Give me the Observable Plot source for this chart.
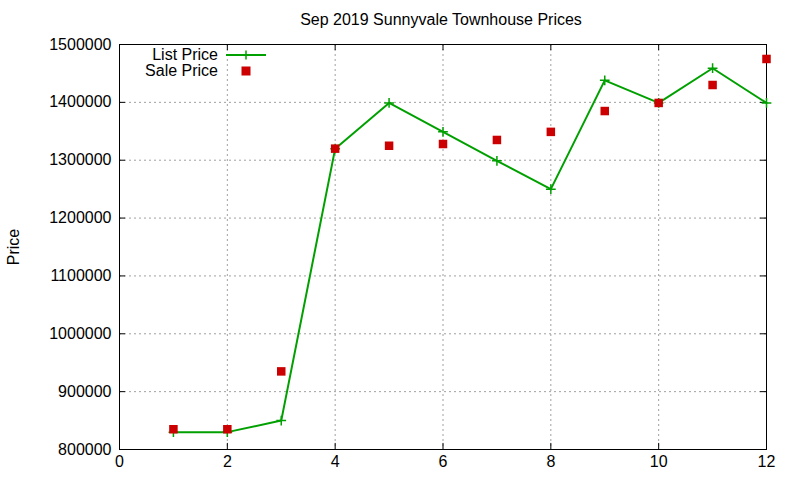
<!DOCTYPE html>
<html>
<head>
<meta charset="utf-8">
<script src="https://cdn.jsdelivr.net/npm/d3@7"></script>
<script src="https://cdn.jsdelivr.net/npm/@observablehq/plot@0.6"></script>
<style>
  html, body { margin: 0; padding: 0; background: #fff; }
  #wrap { position: relative; width: 800px; height: 480px; font-family: "Liberation Sans", Arial, sans-serif; }
  #title { height: 32px; line-height: 40px; text-align: center; font-size: 16px; color: #000; padding-left: 82px; box-sizing: border-box; }
  #legend { position: absolute; left: 118px; top: 47px; font-size: 16px; color: #000; }
  .row { display: flex; align-items: center; height: 16px; }
  .lab { width: 100px; text-align: right; }
</style>
</head>
<body>
<div id="wrap">
  <div id="title">Sep 2019 Sunnyvale Townhouse Prices</div>
  <div id="chart"></div>
  <div id="legend"></div>
</div>
<script>
const months = [1, 2, 3, 4, 5, 6, 7, 8, 9, 10, 11, 12];
const listPrice = [830000, 830000, 850000, 1320000, 1399000, 1349000, 1299000, 1250000, 1438000, 1399000, 1459000, 1399000];
const salePrice = [835000, 835000, 935000, 1320000, 1325000, 1328000, 1335000, 1349000, 1385000, 1399000, 1430000, 1475000];
const xTicks = [0, 2, 4, 6, 8, 10, 12];
const yTicks = [800000, 900000, 1000000, 1100000, 1200000, 1300000, 1400000, 1500000];
const seriesNames = ["List Price", "Sale Price"];
const colors = ["#00a000", "#cc0000"];

const listData = months.map((m, i) => ({x: m, y: listPrice[i]}));
const saleData = months.map((m, i) => ({x: m, y: salePrice[i]}));

const crossSymbol = {
  draw(context, size) {
    const h = Math.sqrt(size) / 2;
    context.moveTo(-h, 0); context.lineTo(h, 0);
    context.moveTo(0, -h); context.lineTo(0, h);
  }
};

const fmt = d3.format("d");

const chart = Plot.plot({
  width: 800,
  height: 448,
  marginTop: 12,
  marginBottom: 31,
  marginLeft: 119,
  marginRight: 34,
  style: {fontFamily: "Liberation Sans, Arial, sans-serif", fontSize: "16px", color: "#000", background: "#fff"},
  x: {domain: [0, 12]},
  y: {domain: [800000, 1500000]},
  marks: [
    Plot.gridX(xTicks, {stroke: "#a0a0a0", strokeOpacity: 1, strokeDasharray: "2,3", strokeWidth: 1}),
    Plot.gridY(yTicks, {stroke: "#a0a0a0", strokeOpacity: 1, strokeDasharray: "2,3", strokeWidth: 1}),
    Plot.axisX(xTicks, {tickSize: 0, tickPadding: 6, tickFormat: fmt, label: null, fontSize: 16}),
    Plot.axisY(yTicks, {tickSize: 0, tickPadding: 8, tickFormat: fmt, label: "Price", labelAnchor: "center", labelArrow: "none", labelOffset: 112, fontSize: 16}),
    Plot.ruleX(xTicks, {x: d => d, y1: 800000, y2: 810500, stroke: "#000"}),
    Plot.ruleX(xTicks, {x: d => d, y1: 1489500, y2: 1500000, stroke: "#000"}),
    Plot.ruleY(yTicks, {y: d => d, x1: 0, x2: 0.11, stroke: "#000"}),
    Plot.ruleY(yTicks, {y: d => d, x1: 11.89, x2: 12, stroke: "#000"}),
    Plot.frame({stroke: "#000", strokeWidth: 1}),
    Plot.line(listData, {x: "x", y: "y", stroke: colors[0], strokeWidth: 2}),
    Plot.dot(listData, {x: "x", y: "y", symbol: crossSymbol, r: 5.5, stroke: colors[0], strokeWidth: 1.5, fill: "none"}),
    Plot.dot(saleData, {x: "x", y: "y", symbol: "square", r: 4.8, fill: colors[1], stroke: "none"})
  ]
});
document.getElementById("chart").appendChild(chart);

const legend = document.getElementById("legend");
seriesNames.forEach((name, i) => {
  const row = document.createElement("div");
  row.className = "row";
  const lab = document.createElement("div");
  lab.className = "lab";
  lab.textContent = name;
  row.appendChild(lab);
  const sw = document.createElementNS("http://www.w3.org/2000/svg", "svg");
  sw.setAttribute("width", 50); sw.setAttribute("height", 16);
  sw.style.marginLeft = "8px";
  if (i === 0) {
    sw.innerHTML = `<line x1="0" x2="40" y1="8" y2="8" stroke="${colors[0]}" stroke-width="2"/>
      <line x1="15.5" x2="24.5" y1="8" y2="8" stroke="${colors[0]}" stroke-width="1.5"/>
      <line x1="20" x2="20" y1="3.5" y2="12.5" stroke="${colors[0]}" stroke-width="1.5"/>`;
  } else {
    sw.innerHTML = `<rect x="15.5" y="3.5" width="9" height="9" fill="${colors[1]}"/>`;
  }
  row.appendChild(sw);
  legend.appendChild(row);
});
</script>
</body>
</html>
